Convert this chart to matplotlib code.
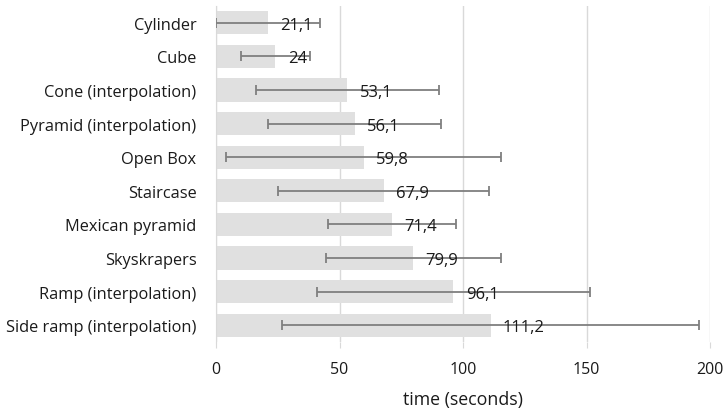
import matplotlib.pyplot as plt

categories = ["Cylinder", "Cube", "Cone (interpolation)", "Pyramid (interpolation)",
              "Open Box", "Staircase", "Mexican pyramid", "Skyskrapers",
              "Ramp (interpolation)", "Side ramp (interpolation)"]
means = [21.1, 24, 53.1, 56.1, 59.8, 67.9, 71.4, 79.9, 96.1, 111.2]
errors = [21.0, 14.0, 37.1, 35.1, 55.6, 42.6, 25.9, 35.5, 55.3, 84.4]
labels = ["21,1", "24", "53,1", "56,1", "59,8", "67,9", "71,4", "79,9", "96,1", "111,2"]
xticks = [0, 50, 100, 150, 200]

plt.rcParams['font.family'] = ['Open Sans', 'DejaVu Sans']

fig = plt.figure(figsize=(7.27, 4.10), dpi=100)
ax = fig.add_axes([216 / 727, 1 - 343 / 410, 494 / 727, 336 / 410])

y = list(range(len(categories)))
ax.barh(y, means, height=0.69, color="#e0e0e0", zorder=2)
ax.errorbar(means, y, xerr=errors, fmt="none", ecolor="#7f7f7f",
            elinewidth=1.3, capsize=3.5, capthick=1.3, zorder=3)

for yi, m, lab in zip(y, means, labels):
    ax.text(m + 5, yi + 0.06, lab, ha="left", va="center", fontsize=12,
            color="#1a1a1a", zorder=4)

ax.set_ylim(len(categories) - 0.5, -0.5)
ax.set_yticks(y)
ax.set_yticklabels(categories, fontsize=11.8, color="#1a1a1a")
ax.set_xlim(0, 200)
ax.set_xticks(xticks)
ax.set_xticklabels([str(t) for t in xticks], fontsize=11.5, color="#1a1a1a")
ax.tick_params(axis="y", length=0, pad=14)
ax.tick_params(axis="x", length=4, color="#d9d9d9", pad=10)
ax.xaxis.grid(True, color="#d9d9d9", linewidth=1, zorder=0)
ax.set_axisbelow(True)
for s in ["top", "right", "bottom"]:
    ax.spines[s].set_visible(False)
ax.spines["left"].set_color("#d9d9d9")
ax.set_xlabel("time (seconds)", fontsize=12.8, color="#1a1a1a", labelpad=9)

fig.savefig("out.png", dpi=100)
